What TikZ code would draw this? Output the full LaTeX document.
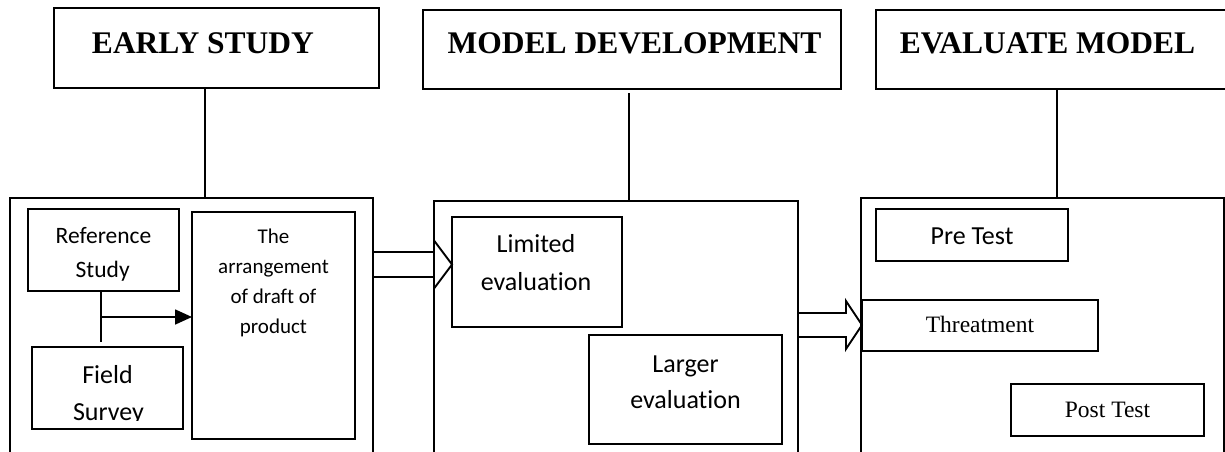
\documentclass[tikz,border=0pt]{standalone}
\usepackage{fontspec}
\setmainfont{Liberation Serif}
\newfontfamily\calfont[Ligatures=NoCommon]{Carlito}
\usetikzlibrary{arrows.meta,calc}
\begin{document}
\begin{tikzpicture}[x=1pt,y=-1pt,
  box/.style={draw, line width=1.9pt, inner sep=0pt, outer sep=0pt, anchor=north west},
  conn/.style={line width=1.7pt},
  barrow/.style={draw, line width=1.9pt, line join=miter},
  head/.style={font=\bfseries\fontsize{31.5}{36}\selectfont, anchor=base, inner sep=0pt},
  cal/.style={anchor=base, inner sep=0pt, font=\calfont\fontsize{#1}{#1}\selectfont},
  tms/.style={anchor=base, inner sep=0pt, font=\fontsize{#1}{#1}\selectfont},
]
\useasboundingbox (0,0) rectangle (1225,452);
\clip (0,0) rectangle (1225,452);

% header boxes
\node[box, minimum width=325pt, minimum height=80pt] (early) at (54,8) {};
\node[box, minimum width=418pt, minimum height=79pt] (model) at (423,10) {};
\node[box, minimum width=364pt, minimum height=79pt] (evalm) at (876,10) {};

% big boxes
\node[box, minimum width=363pt, minimum height=272pt] (big1) at (10,198) {};
\node[box, minimum width=364pt, minimum height=269pt] (big2) at (434,201) {};
\node[box, minimum width=363pt, minimum height=272pt] (big3) at (861,198) {};

% inner boxes
\node[box, minimum width=151pt, minimum height=82pt] (ref) at (28,209) {};
\node[box, minimum width=151pt, minimum height=82pt] (field) at (32,347) {};
\node[box, minimum width=163pt, minimum height=227pt] (arr) at (192,212) {};
\node[box, minimum width=170pt, minimum height=110pt] (lim) at (452,217) {};
\node[box, minimum width=193pt, minimum height=109pt] (lar) at (589,335) {};
\node[box, minimum width=192pt, minimum height=52pt] (pre) at (876,209) {};
\node[box, minimum width=236pt, minimum height=51pt] (thr) at (862,300) {};
\node[box, minimum width=193pt, minimum height=52pt] (post) at (1011,384) {};

% header texts
\node[head] (tearly) at (203,53) {EARLY STUDY};
\node[head] (tmodel) at (634.5,54) {MODEL DEVELOPMENT};
\node[head] (tevalm) at (1047.5,54) {EVALUATE MODEL};

% inner texts
\node[cal=23.5] (tref1) at (103.5,243) {Reference};
\node[cal=23.5] (tref2) at (102.7,277) {Study};
\node[cal=26] (tfield1) at (107.5,383) {Field};
\coordinate (sv) at (0,420);
\begin{scope}
\clip (field.north west) rectangle (field.north east |- sv);
\node[cal=26] (tfield2) at (108.5,420) {Survey};
\end{scope}
\node[cal=21] (tarr1) at (273.5,243) {The};
\node[cal=21] (tarr2) at (273.5,273) {arrangement};
\node[cal=21] (tarr3) at (273.5,303) {of draft of};
\node[cal=21] (tarr4) at (273.5,333) {product};
\node[cal=26] (tlim1) at (536,252) {Limited};
\node[cal=26] (tlim2) at (536,290) {evaluation};
\node[cal=26] (tlar1) at (685.5,372) {Larger};
\node[cal=26] (tlar2) at (685.5,408) {evaluation};
\node[cal=26] (tpre) at (972,244) {Pre Test};
\node[tms=23.5] (tthr) at (980,332) {Threatment};
\node[tms=23.5] (tpost) at (1107.5,417) {Post Test};

% vertical connectors
\coordinate (c1) at (205,0);
\coordinate (c2) at (629,0);
\coordinate (c3) at (1057,0);
\draw[conn] (early.south -| c1) -- (big1.north -| c1);
\draw[conn] ($(model.south -| c2)+(0,4)$) -- (big2.north -| c2);
\draw[conn] (evalm.south -| c3) -- (big3.north -| c3);

% reference / field connector
\coordinate (j) at (101,317);
\draw[conn] (ref.south -| j) -- ($(field.north -| j)+(0,-5)$);
\draw[conn,-{Triangle[length=17pt,width=15pt]}] (j) -- (j -| arr.west);

% block arrows
\coordinate (y1) at (0,264.5);
\coordinate (y2) at (0,325);
\draw[barrow] ($(big1.east |- y1)+(0,-12.5)$) -- ($(big2.west |- y1)+(0,-12.5)$)
  -- ($(big2.west |- y1)+(0,-24)$) -- (lim.west |- y1)
  -- ($(big2.west |- y1)+(0,24)$) -- ($(big2.west |- y1)+(0,12.5)$)
  -- ($(big1.east |- y1)+(0,12.5)$);
\draw[barrow] ($(big2.east |- y2)+(0,-12)$) -- ($(thr.west |- y2)+(-16,-12)$)
  -- ($(thr.west |- y2)+(-16,-24)$) -- (thr.west |- y2)
  -- ($(thr.west |- y2)+(-16,24)$) -- ($(thr.west |- y2)+(-16,12)$)
  -- ($(big2.east |- y2)+(0,12)$);
\end{tikzpicture}
\end{document}
